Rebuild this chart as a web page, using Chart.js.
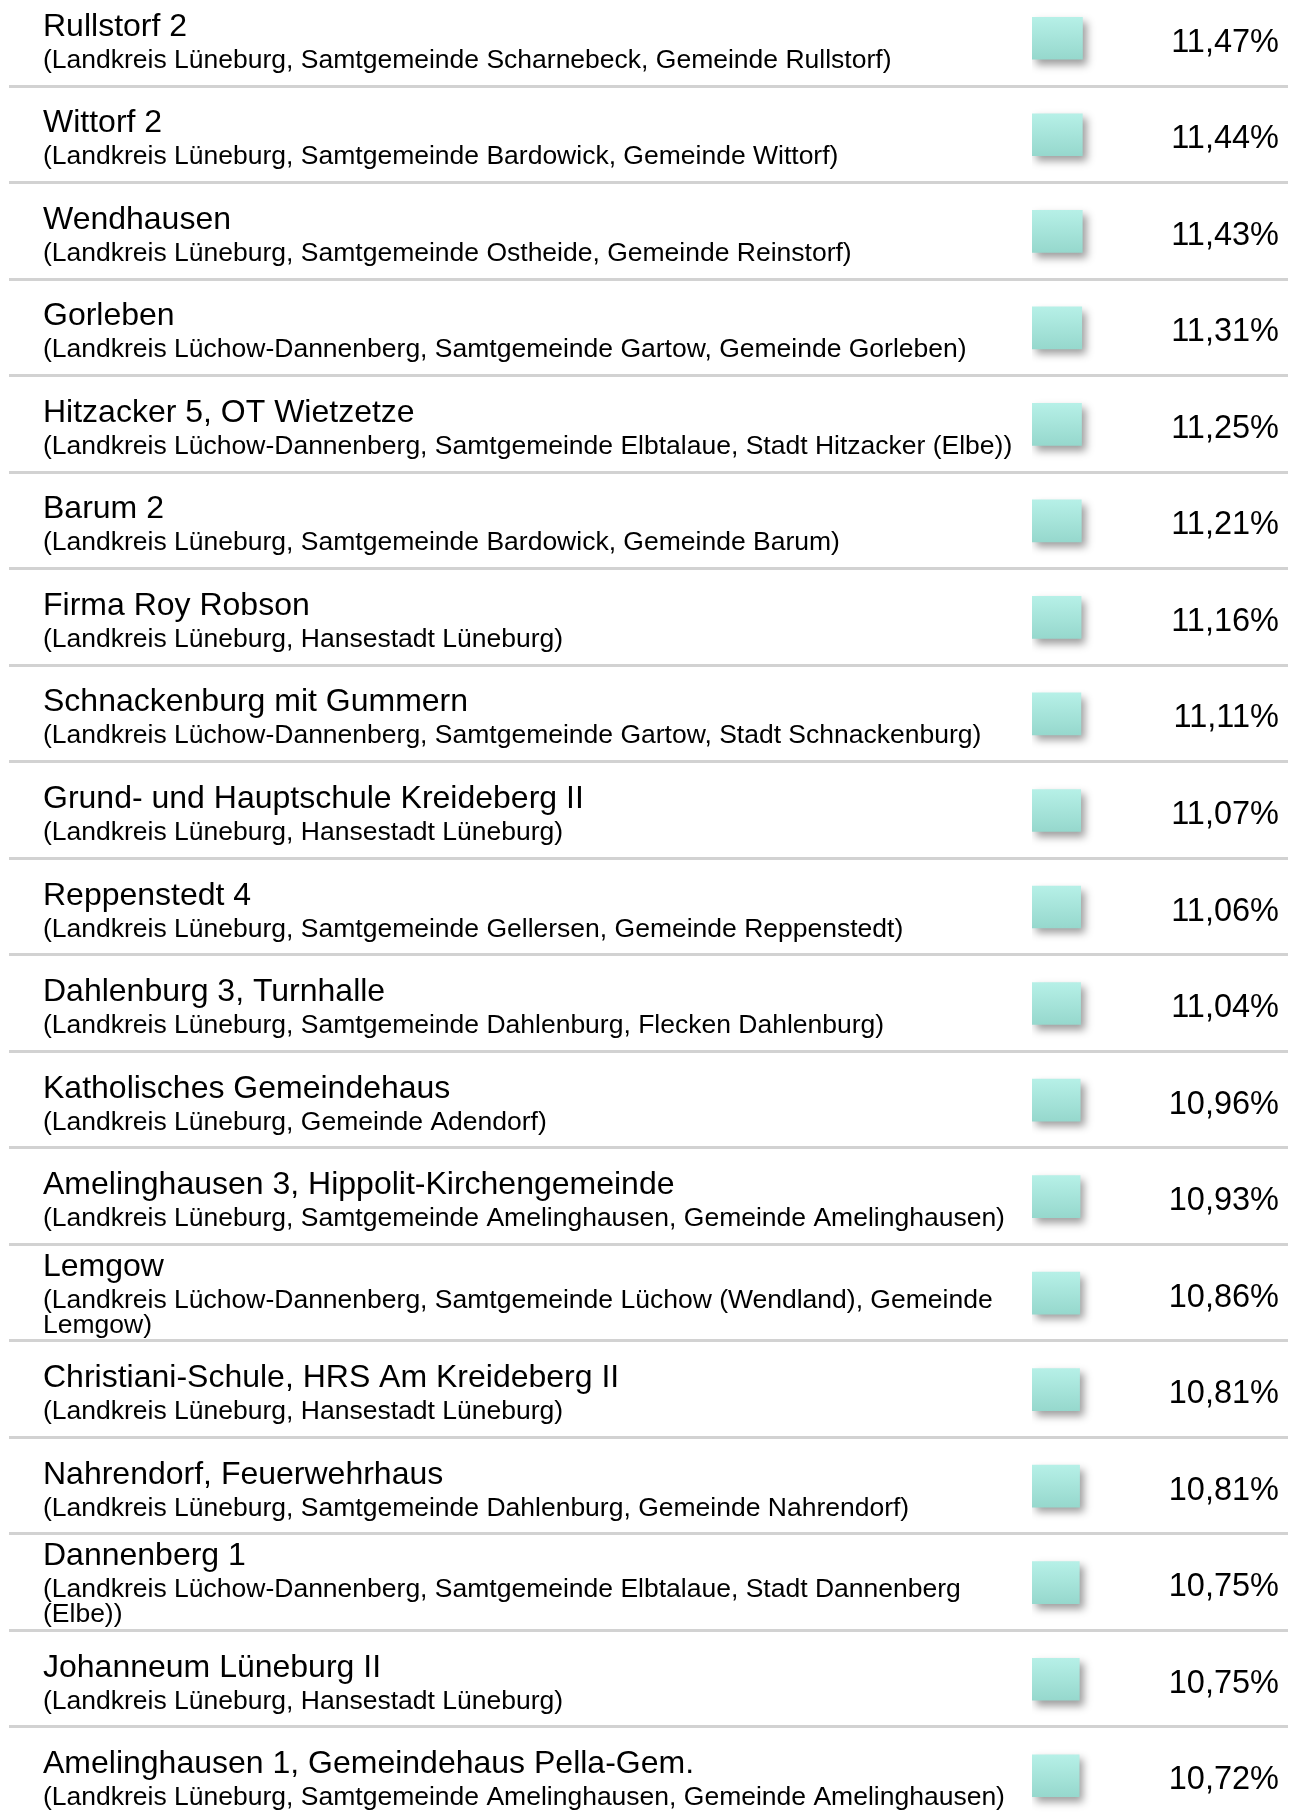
<!DOCTYPE html>
<html>
<head>
<meta charset="utf-8">
<script src="https://cdn.jsdelivr.net/npm/chart.js@4.4.0/dist/chart.umd.min.js"></script>
<style>
    html, body {
        margin: 0;
        padding: 0;
        background: #ffffff;
        overflow: hidden;
    }
    #wrap {
        position: absolute;
        left: 0;
        top: -10px;
        width: 1297px;
        height: 1834px;
    }
</style>
</head>
<body>
<div id="wrap">
    <canvas id="bar-chart" width="1297" height="1834"></canvas>
</div>
<script>
// data

var names = [
    "Rullstorf 2",
    "Wittorf 2",
    "Wendhausen",
    "Gorleben",
    "Hitzacker 5, OT Wietzetze",
    "Barum 2",
    "Firma Roy Robson",
    "Schnackenburg mit Gummern",
    "Grund- und Hauptschule Kreideberg II",
    "Reppenstedt 4",
    "Dahlenburg 3, Turnhalle",
    "Katholisches Gemeindehaus",
    "Amelinghausen 3, Hippolit-Kirchengemeinde",
    "Lemgow",
    "Christiani-Schule, HRS Am Kreideberg II",
    "Nahrendorf, Feuerwehrhaus",
    "Dannenberg 1",
    "Johanneum Lüneburg II",
    "Amelinghausen 1, Gemeindehaus Pella-Gem."
];

var places = [
    "(Landkreis Lüneburg, Samtgemeinde Scharnebeck, Gemeinde Rullstorf)",
    "(Landkreis Lüneburg, Samtgemeinde Bardowick, Gemeinde Wittorf)",
    "(Landkreis Lüneburg, Samtgemeinde Ostheide, Gemeinde Reinstorf)",
    "(Landkreis Lüchow-Dannenberg, Samtgemeinde Gartow, Gemeinde Gorleben)",
    "(Landkreis Lüchow-Dannenberg, Samtgemeinde Elbtalaue, Stadt Hitzacker (Elbe))",
    "(Landkreis Lüneburg, Samtgemeinde Bardowick, Gemeinde Barum)",
    "(Landkreis Lüneburg, Hansestadt Lüneburg)",
    "(Landkreis Lüchow-Dannenberg, Samtgemeinde Gartow, Stadt Schnackenburg)",
    "(Landkreis Lüneburg, Hansestadt Lüneburg)",
    "(Landkreis Lüneburg, Samtgemeinde Gellersen, Gemeinde Reppenstedt)",
    "(Landkreis Lüneburg, Samtgemeinde Dahlenburg, Flecken Dahlenburg)",
    "(Landkreis Lüneburg, Gemeinde Adendorf)",
    "(Landkreis Lüneburg, Samtgemeinde Amelinghausen, Gemeinde Amelinghausen)",
    "(Landkreis Lüchow-Dannenberg, Samtgemeinde Lüchow (Wendland), Gemeinde\nLemgow)",
    "(Landkreis Lüneburg, Hansestadt Lüneburg)",
    "(Landkreis Lüneburg, Samtgemeinde Dahlenburg, Gemeinde Nahrendorf)",
    "(Landkreis Lüchow-Dannenberg, Samtgemeinde Elbtalaue, Stadt Dannenberg\n(Elbe))",
    "(Landkreis Lüneburg, Hansestadt Lüneburg)",
    "(Landkreis Lüneburg, Samtgemeinde Amelinghausen, Gemeinde Amelinghausen)"
];

var shares = [11.47, 11.44, 11.43, 11.31, 11.25, 11.21, 11.16, 11.11, 11.07, 11.06,
    11.04, 10.96, 10.93, 10.86, 10.81, 10.81, 10.75, 10.75, 10.72];

// layout bits

var FONT = "'Liberation Sans', Arial, sans-serif";
var TEXT_X = 43;
var PCT_X = 1279;
var BAR_LEFT = 1032;
var PX_PER_PCT = 4.4;
var X_MAX = 20;

function fmt(v) {
    return v.toFixed(2).replace('.', ',') + '%';
}

// shadow behind the bars
var barShadow = {
    id: 'barShadow',
    beforeDatasetsDraw: function (chart) {
        var ctx = chart.ctx;
        ctx.save();
        ctx.shadowColor = 'rgba(0, 0, 0, 0.38)';
        ctx.shadowBlur = 8;
        ctx.shadowOffsetX = 4;
        ctx.shadowOffsetY = 5;
    },
    afterDatasetsDraw: function (chart) {
        chart.ctx.restore();
    }
};

// row lines, names and percentages
var rowText = {
    id: 'rowText',
    beforeDatasetsDraw: function (chart) {
        var ctx = chart.ctx;
        var y = chart.scales.y;
        var band = chart.chartArea.height / names.length;
        ctx.save();
        ctx.fillStyle = '#d2d2d2';
        for (var i = 0; i < names.length; i++) {
            var c = y.getPixelForValue(i);
            ctx.fillRect(9, Math.round(c + band / 2) - 2, 1279, 3);
        }
        ctx.restore();
    },
    afterDraw: function (chart) {
        var ctx = chart.ctx;
        var y = chart.scales.y;
        ctx.save();
        ctx.fillStyle = '#000000';
        ctx.textBaseline = 'alphabetic';
        for (var i = 0; i < names.length; i++) {
            var c = y.getPixelForValue(i);
            var lines = places[i].split('\n');
            var shift = 15 * (lines.length - 1);

            ctx.textAlign = 'left';
            ctx.font = '32px ' + FONT;
            ctx.fillText(names[i], TEXT_X, c - 2.5 - shift);

            ctx.font = '26.5px ' + FONT;
            for (var k = 0; k < lines.length; k++) {
                ctx.fillText(lines[k], TEXT_X, c + 29.5 - shift + k * 25);
            }

            ctx.textAlign = 'right';
            ctx.font = '32.5px ' + FONT;
            ctx.fillText(fmt(shares[i]), PCT_X, c + 13.5);
        }
        ctx.restore();
    }
};

function barFill(context) {
    var chart = context.chart;
    var y = chart.scales.y;
    if (!chart.chartArea || !y) {
        return '#a6e4da';
    }
    var c = y.getPixelForValue(context.dataIndex);
    var g = chart.ctx.createLinearGradient(0, c - 21, 0, c + 21);
    g.addColorStop(0, '#b6f0e7');
    g.addColorStop(1, '#96d8cd');
    return g;
}

new Chart(document.getElementById('bar-chart'), {
    type: 'bar',
    data: {
        labels: names,
        datasets: [{
            data: shares,
            backgroundColor: barFill,
            borderWidth: 0,
            barThickness: 42
        }]
    },
    options: {
        indexAxis: 'y',
        responsive: false,
        animation: false,
        devicePixelRatio: 1,
        layout: {
            padding: {
                left: BAR_LEFT,
                right: 1297 - BAR_LEFT - X_MAX * PX_PER_PCT,
                top: 0,
                bottom: 0
            }
        },
        scales: {
            x: {display: false, min: 0, max: X_MAX},
            y: {display: false}
        },
        plugins: {
            legend: {display: false},
            tooltip: {enabled: false}
        }
    },
    plugins: [rowText, barShadow]
});
</script>
</body>
</html>
